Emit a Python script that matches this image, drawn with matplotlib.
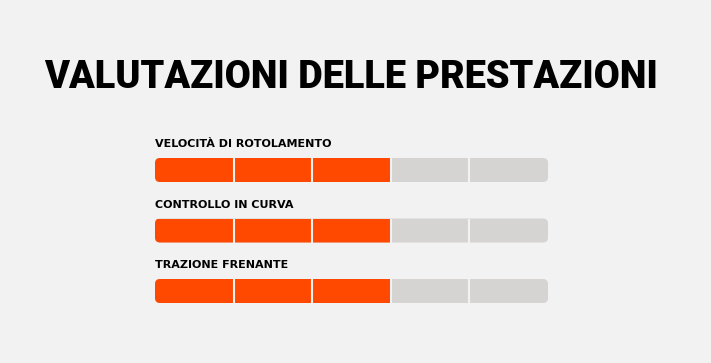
import matplotlib.pyplot as plt
from matplotlib.patches import FancyBboxPatch

title = "VALUTAZIONI DELLE PRESTAZIONI"
categories = ["VELOCITÀ DI ROTOLAMENTO", "CONTROLLO IN CURVA", "TRAZIONE FRENANTE"]
scores = [3, 3, 3]
max_score = 5

bg = "#F2F2F2"
orange = "#FF4800"
grey = "#D5D4D2"

W, H = 711, 363
fig = plt.figure(figsize=(W / 100, H / 100), dpi=100, facecolor=bg)

# layout, in pixels
bar_left, bar_right = 155, 548
row_px = 60.5
first_center = 170
top_units, bottom_units = 0.8, 0.5
bar_h = 24 / row_px
ax_top = first_center - top_units * row_px
ax_h = (len(categories) - 1 + top_units + bottom_units) * row_px
ax = fig.add_axes([bar_left / W, 1 - (ax_top + ax_h) / H,
                   (bar_right - bar_left) / W, ax_h / H])
ax.set_xlim(0, max_score)
ax.set_ylim(len(categories) - 1 + bottom_units, -top_units)
ax.axis("off")

seg_px = (bar_right - bar_left) / max_score
radius_px = 5

for i, (cat, score) in enumerate(zip(categories, scores)):
    # grey track with rounded ends, orange part clipped to it
    track = FancyBboxPatch((0, i - bar_h / 2), max_score, bar_h,
                           boxstyle=f"round,pad=0,rounding_size={radius_px / seg_px}",
                           mutation_aspect=seg_px / row_px,
                           facecolor=grey, edgecolor="none", transform=ax.transData)
    ax.add_patch(track)
    bars = ax.barh(i, score, height=bar_h, left=0, color=orange, linewidth=0)
    for b in bars:
        b.set_clip_path(track)
    ax.vlines(range(1, max_score), i - bar_h / 2, i + bar_h / 2, color=bg, linewidth=1.5)
    ax.text(0, i - 23 / row_px, cat, fontsize=8, fontweight="bold",
            va="baseline", ha="left", color="black")

fig.text(351 / W, 1 - 88 / H, title, ha="center", va="baseline",
         fontsize=27.3, fontweight="black", family=["Roboto", "DejaVu Sans"], color="black")

fig.savefig("out.png", dpi=100, facecolor=bg)
